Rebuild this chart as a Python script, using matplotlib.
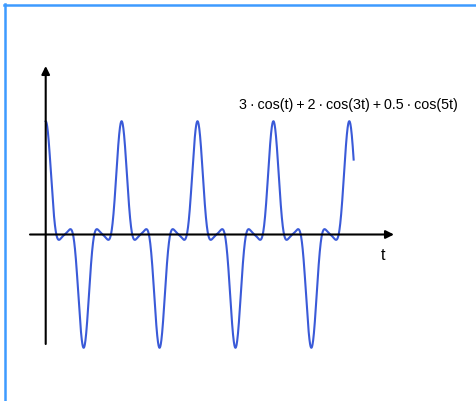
import numpy as np
import matplotlib
matplotlib.use('Agg')
import matplotlib.pyplot as plt
from matplotlib.lines import Line2D

# harmonic components of the signal
amplitudes = [3, 2, 0.5]
harmonics = [1, 3, 5]
t_end = 8 * np.pi + 0.36

W, H = 477, 402
x0_px, px_per_t = 45.7, 75.9 / (2 * np.pi)
y0_px, px_per_unit = 235.5, 20.6

fig = plt.figure(figsize=(W / 100, H / 100), dpi=100)
ax = fig.add_axes([0, 0, 1, 1])
ax.set_xlim(-x0_px / px_per_t, (W - x0_px) / px_per_t)
ax.set_ylim((y0_px - H) / px_per_unit, y0_px / px_per_unit)
ax.axis('off')

t = np.linspace(0, t_end, 2000)
f = sum(a * np.cos(k * t) for a, k in zip(amplitudes, harmonics))
ax.plot(t, f, color='#3a5ad8', lw=1.5, zorder=3)

# axes with arrowheads
def px_t(x):
    return (x - x0_px) / px_per_t

def px_f(y):
    return (y0_px - y) / px_per_unit

ax.annotate('', xy=(px_t(394), 0), xytext=(px_t(30), 0),
            arrowprops=dict(arrowstyle='-|>', lw=1.5, color='black', mutation_scale=12, shrinkA=0, shrinkB=0))
ax.annotate('', xy=(0, px_f(67)), xytext=(0, px_f(345)),
            arrowprops=dict(arrowstyle='-|>', lw=1.5, color='black', mutation_scale=12, shrinkA=0, shrinkB=0))

sp = '\u2009'
label = sp.join(['3', '·', 'cos(t)', '+', '2', '·', 'cos(3t)', '+', '0.5', '·', 'cos(5t)'])
ax.text(px_t(239), px_f(105), label,
        family=['Liberation Sans', 'DejaVu Sans'], fontsize=10.3, ha='left', va='center')
ax.text(px_t(383), px_f(256), 't', family=['Liberation Sans', 'DejaVu Sans'],
        fontsize=11.5, ha='center', va='center')

# frame lines along top and left
fig.add_artist(Line2D([4 / W, 1], [1 - 5.5 / H, 1 - 5.5 / H], transform=fig.transFigure,
                      color='#3d9bff', lw=1.8))
fig.add_artist(Line2D([5 / W, 5 / W], [0, 1 - 4.5 / H], transform=fig.transFigure,
                      color='#3d9bff', lw=1.8))

fig.savefig('out.png', dpi=100)
